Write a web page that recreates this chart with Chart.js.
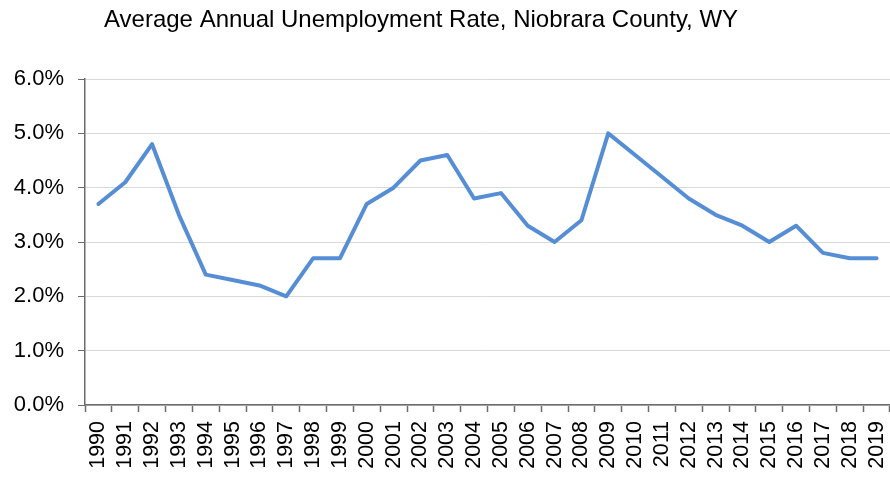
<!DOCTYPE html>
<html>
<head>
<meta charset="utf-8">
<script src="https://cdn.jsdelivr.net/npm/chart.js@4"></script>
<style>
  html, body { margin: 0; padding: 0; background: #fff; }
  #wrap { width: 890px; height: 480px; position: relative; }
</style>
</head>
<body>
<div id="wrap"><canvas id="rateChart"></canvas></div>
<script>
const chartTitle = 'Average Annual Unemployment Rate, Niobrara County, WY';

const years = [
  '1990','1991','1992','1993','1994','1995','1996','1997','1998','1999',
  '2000','2001','2002','2003','2004','2005','2006','2007','2008','2009',
  '2010','2011','2012','2013','2014','2015','2016','2017','2018','2019'
];

// percent
const rates = [
  3.7, 4.1, 4.8, 3.5, 2.4, 2.3, 2.2, 2.0, 2.7, 2.7,
  3.7, 4.0, 4.5, 4.6, 3.8, 3.9, 3.3, 3.0, 3.4, 5.0,
  4.6, 4.2, 3.8, 3.5, 3.3, 3.0, 3.3, 2.8, 2.7, 2.7
];

const yTicks = [0, 1, 2, 3, 4, 5, 6];

const fontFamily = '"Liberation Sans", Arial, sans-serif';
const axisColor = '#6b6b6b';
const gridColor = '#d9d9d9';

// title drawn left-aligned above the plot
const titlePlugin = {
  id: 'leftTitle',
  afterDraw(chart) {
    const ctx = chart.ctx;
    ctx.save();
    ctx.font = '24px ' + fontFamily;
    ctx.fillStyle = '#000';
    ctx.textBaseline = 'alphabetic';
    ctx.textAlign = 'left';
    ctx.fillText(chartTitle, 104, 27);
    ctx.restore();
  }
};

const config = {
  type: 'line',
  data: {
    labels: years,
    datasets: [{
      data: rates,
      borderColor: '#558ED5',
      borderWidth: 4,
      pointRadius: 0,
      pointHoverRadius: 0,
      tension: 0,
      fill: false,
      borderCapStyle: 'round',
      borderJoinStyle: 'round'
    }]
  },
  options: {
    responsive: true,
    maintainAspectRatio: false,
    animation: false,
    layout: {
      padding: { top: 79, right: 0, bottom: 0, left: 0 }
    },
    plugins: {
      legend: { display: false },
      tooltip: { enabled: false },
      title: { display: false }
    },
    scales: {
      x: {
        offset: true,
        afterFit: (scale) => {
          scale.height = 75;
          // rotated labels fit inside their slots, no side padding needed
          scale.paddingLeft = 0;
          scale.paddingRight = 0;
        },
        border: { color: axisColor, width: 1.5 },
        grid: {
          offset: true,
          drawOnChartArea: false,
          drawTicks: true,
          tickLength: 7,
          tickColor: axisColor,
          tickWidth: 1.5
        },
        ticks: {
          autoSkip: false,
          minRotation: 90,
          maxRotation: 90,
          padding: 9,
          color: '#000',
          font: { family: fontFamily, size: 21.5 }
        }
      },
      y: {
        min: 0,
        max: 6,
        afterFit: (scale) => { scale.width = 85; },
        afterBuildTicks: (scale) => {
          scale.ticks = yTicks.map(v => ({ value: v }));
        },
        border: { color: axisColor, width: 1.5 },
        grid: {
          color: gridColor,
          lineWidth: 1,
          drawTicks: true,
          tickLength: 7,
          tickColor: axisColor
        },
        ticks: {
          padding: 14,
          color: '#000',
          font: { family: fontFamily, size: 22 },
          callback: (v) => Number(v).toFixed(1) + '%'
        }
      }
    }
  },
  plugins: [titlePlugin]
};

new Chart(document.getElementById('rateChart'), config);
</script>
</body>
</html>
